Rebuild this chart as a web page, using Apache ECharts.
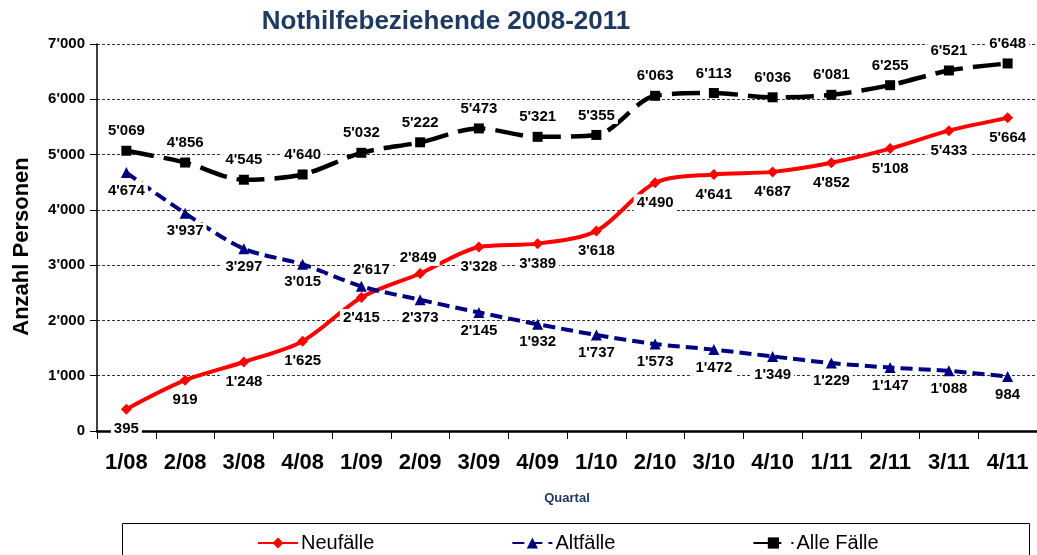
<!DOCTYPE html>
<html>
<head>
	<meta charset="utf-8">
	<script type="text/javascript" src="https://cdn.jsdelivr.net/npm/echarts@6/dist/echarts.min.js"></script>
</head>
<body style="margin:0">

<div id="main" style="width:1037px;height:555px;"></div>

<script type="text/javascript">
  // Quartale
  var quartale = ['1/08', '2/08', '3/08', '4/08', '1/09', '2/09', '3/09', '4/09',
                  '1/10', '2/10', '3/10', '4/10', '1/11', '2/11', '3/11', '4/11'];
  var neufaelle = [395, 919, 1248, 1625, 2415, 2849, 3328, 3389, 3618, 4490, 4641, 4687, 4852, 5108, 5433, 5664];
  var altfaelle = [4674, 3937, 3297, 3015, 2617, 2373, 2145, 1932, 1737, 1573, 1472, 1349, 1229, 1147, 1088, 984];
  var alleFaelle = [5069, 4856, 4545, 4640, 5032, 5222, 5473, 5321, 5355, 6063, 6113, 6036, 6081, 6255, 6521, 6648];

  var myChart = echarts.init(document.getElementById('main'));

  // 1000er-Trennzeichen wie im Original: 5'069
  function fmt(v) {
    return String(v).replace(/\B(?=(\d{3})+(?!\d))/g, "'");
  }

  // einzelne Beschriftungen oberhalb, wo sich die Linien kreuzen
  function withTop(arr, idx, dx) {
    return arr.map(function (v, i) {
      if (i !== idx) return v;
      return { value: v, label: { position: 'top', distance: 2, offset: [dx || 0, 0] } };
    });
  }

  var labelStyle = {
    show: true,
    fontFamily: 'Liberation Sans, Arial, sans-serif',
    fontWeight: 'bold',
    fontSize: 15,
    color: '#000',
    backgroundColor: '#fff',
    padding: [1, 3],
    formatter: function (p) { return fmt(p.value); }
  };

  var option = {
    animation: false,
    textStyle: { fontFamily: 'Liberation Sans, Arial, sans-serif' },
    title: {
      text: 'Nothilfebeziehende 2008-2011',
      left: 441,
      textAlign: 'center',
      top: 4,
      textStyle: { fontSize: 26, fontWeight: 'bold', color: '#1f3a60' }
    },
    grid: { left: 97, right: -3, top: 44, bottom: 124 },
    legend: {
      left: 252,
      top: 528,
      itemGap: 137,
      itemWidth: 40,
      itemHeight: 14,
      textStyle: { fontSize: 20, color: '#000', padding: [0, 0, 0, -2] },
      data: ['Neufälle', 'Altfälle', 'Alle Fälle']
    },
    graphic: [{
      type: 'rect',
      shape: { x: 122.5, y: 523.5, width: 907, height: 40 },
      style: { fill: 'none', stroke: '#000', lineWidth: 1 },
      z: -1
    }],
    xAxis: {
      type: 'category',
      data: quartale,
      name: 'Quartal',
      nameLocation: 'middle',
      nameGap: 61,
      nameTextStyle: { fontSize: 13, fontWeight: 'bold', color: '#1f3a60' },
      axisLine: { lineStyle: { color: '#000', width: 2.5 } },
      axisTick: { show: true, length: 8, lineStyle: { color: '#000', width: 1 } },
      axisLabel: { fontSize: 22, fontWeight: 'bold', color: '#000', margin: 21 }
    },
    yAxis: {
      type: 'value',
      min: 0,
      max: 7000,
      interval: 1000,
      name: 'Anzahl Personen',
      nameLocation: 'middle',
      nameGap: 64,
      nameRotate: 90,
      nameTextStyle: { fontSize: 22, fontWeight: 'bold', color: '#000', padding: [0, 18, 0, 0] },
      axisLine: { show: true, lineStyle: { color: '#000', width: 1.5 } },
      axisTick: { show: true, length: 7, lineStyle: { color: '#000' } },
      axisLabel: { fontSize: 15, fontWeight: 'bold', color: '#000', margin: 12, formatter: fmt },
      splitLine: { lineStyle: { color: '#000', type: [3, 2], width: 0.8 } }
    },
    series: [
      {
        name: 'Alle Fälle',
        type: 'line',
        data: alleFaelle,
        smooth: 0.3,
        symbol: 'rect',
        symbolSize: 10,
        itemStyle: { color: '#000' },
        lineStyle: { color: '#000', width: 4.5, type: [28, 10] },
        label: Object.assign({}, labelStyle, { position: 'top', distance: 6 }),
        z: 2
      },
      {
        name: 'Neufälle',
        type: 'line',
        data: withTop(neufaelle, 5, -2),
        smooth: 0.3,
        symbol: 'diamond',
        symbolSize: 11,
        itemStyle: { color: '#ff0000' },
        lineStyle: { color: '#ff0000', width: 4 },
        label: Object.assign({}, labelStyle, { position: 'bottom', distance: 6 }),
        z: 3
      },
      {
        name: 'Altfälle',
        type: 'line',
        data: withTop(altfaelle, 4, 10),
        smooth: 0.3,
        symbol: 'triangle',
        symbolSize: 11,
        itemStyle: { color: '#000080' },
        lineStyle: { color: '#000080', width: 4, type: [12, 6] },
        label: Object.assign({}, labelStyle, { position: 'bottom', distance: 4 }),
        z: 4
      }
    ]
  };

  myChart.setOption(option);
</script>
</body>
</html>
